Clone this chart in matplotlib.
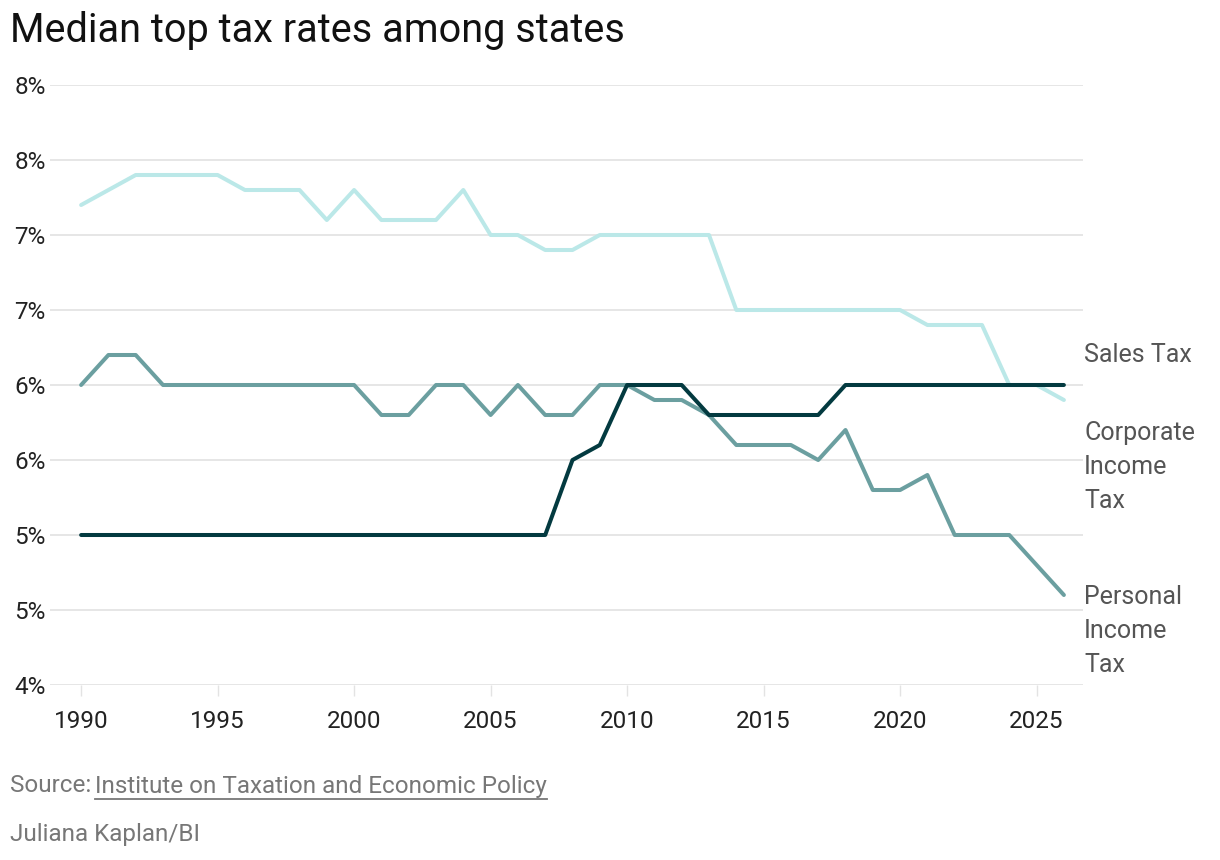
import matplotlib.pyplot as plt
from matplotlib.lines import Line2D

years = list(range(1990, 2027))

# median top rates, percent
corporate = [7.2, 7.3, 7.4, 7.4, 7.4, 7.4, 7.3, 7.3, 7.3, 7.1,
             7.3, 7.1, 7.1, 7.1, 7.3, 7.0, 7.0, 6.9, 6.9, 7.0,
             7.0, 7.0, 7.0, 7.0, 6.5, 6.5, 6.5, 6.5, 6.5, 6.5,
             6.5, 6.4, 6.4, 6.4, 6.0, 6.0, 5.9]
personal = [6.0, 6.2, 6.2, 6.0, 6.0, 6.0, 6.0, 6.0, 6.0, 6.0,
            6.0, 5.8, 5.8, 6.0, 6.0, 5.8, 6.0, 5.8, 5.8, 6.0,
            6.0, 5.9, 5.9, 5.8, 5.6, 5.6, 5.6, 5.5, 5.7, 5.3,
            5.3, 5.4, 5.0, 5.0, 5.0, 4.8, 4.6]
sales = [5.0, 5.0, 5.0, 5.0, 5.0, 5.0, 5.0, 5.0, 5.0, 5.0,
         5.0, 5.0, 5.0, 5.0, 5.0, 5.0, 5.0, 5.0, 5.5, 5.6,
         6.0, 6.0, 6.0, 5.8, 5.8, 5.8, 5.8, 5.8, 6.0, 6.0,
         6.0, 6.0, 6.0, 6.0, 6.0, 6.0, 6.0]

y_ticks = [4.0, 4.5, 5.0, 5.5, 6.0, 6.5, 7.0, 7.5, 8.0]
y_tick_labels = ["4%", "5%", "5%", "6%", "6%", "7%", "7%", "8%", "8%"]
x_ticks = [1990, 1995, 2000, 2005, 2010, 2015, 2020, 2025]

plt.rcParams["font.family"] = ["Roboto", "DejaVu Sans"]

W, H = 1220, 860
fig = plt.figure(figsize=(W / 100, H / 100), dpi=100)
ax = fig.add_axes([50 / W, 1 - 685 / H, (1083 - 50) / W, 600 / H])

ax.plot(years, corporate, color="#bbe8e8", lw=2.9, solid_capstyle="round", zorder=3)
ax.plot(years, personal, color="#6b9fa0", lw=2.9, solid_capstyle="round", zorder=4)
ax.plot(years, sales, color="#033a40", lw=2.9, solid_capstyle="round", zorder=5)

ax.set_xlim(1988.86, 2026.7)
ax.set_ylim(4, 8)
ax.set_yticks(y_ticks)
ax.set_yticklabels(y_tick_labels)
ax.set_xticks(x_ticks)
ax.set_xticklabels([str(x) for x in x_ticks])
ax.tick_params(axis="y", length=0, pad=3, labelsize=17.5, labelcolor="#222222")
ax.tick_params(axis="x", length=8, width=1, color="#e3e3e3", pad=10,
               labelsize=17.5, labelcolor="#222222")
ax.grid(axis="y", color="#e6e6e6", lw=1.4)
ax.set_axisbelow(True)
for s in ax.spines.values():
    s.set_visible(False)

fig.text(10 / W, 1 - 30 / H, "Median top tax rates among states",
         fontsize=28.5, color="#111111", va="center", ha="left")

lab_color = "#555555"
fig.text(1084 / W, 1 - 355 / H, "Sales Tax", fontsize=18, color=lab_color, va="center")
for i, t in enumerate(["Corporate", "Income", "Tax"]):
    fig.text(1084 / W, 1 - (433 + i * 34) / H, t, fontsize=18, color=lab_color, va="center")
for i, t in enumerate(["Personal", "Income", "Tax"]):
    fig.text(1084 / W, 1 - (597 + i * 34) / H, t, fontsize=18, color=lab_color, va="center")

# footer
src_a = fig.text(10 / W, 1 - 786 / H, "Source: ", fontsize=17.5, color="#777777", va="center")
fig.canvas.draw()
r = fig.canvas.get_renderer()
bb = src_a.get_window_extent(r)
src_b = fig.text(bb.x1 / W - 2 / W, 1 - 786 / H, "Institute on Taxation and Economic Policy",
                 fontsize=17.5, color="#777777", va="center")
bb2 = src_b.get_window_extent(r)
fig.add_artist(Line2D([bb2.x0 / W, bb2.x1 / W], [1 - 799 / H, 1 - 799 / H],
                      color="#777777", lw=1.3, transform=fig.transFigure))
fig.text(10 / W, 1 - 835 / H, "Juliana Kaplan/BI", fontsize=17.5, color="#777777", va="center")

fig.savefig("out.png", dpi=100)
